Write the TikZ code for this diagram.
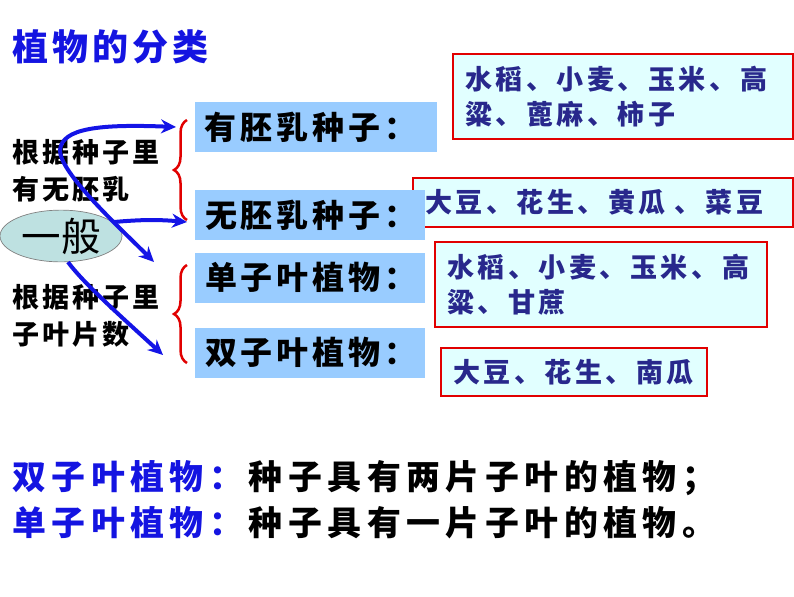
\documentclass[tikz,border=0pt]{standalone}
\usepackage{fontspec}
\newfontfamily\cjk{Noto Sans CJK SC}
\usepackage{xcolor}
\definecolor{colort}{RGB}{20,20,225}
\definecolor{colorb}{RGB}{153,204,255}
\definecolor{colorc}{RGB}{225,255,255}
\definecolor{colorr}{RGB}{225,0,0}
\definecolor{colorn}{RGB}{40,40,140}
\definecolor{colore}{RGB}{190,225,225}
\definecolor{colora}{RGB}{20,20,230}
\usetikzlibrary{arrows.meta,shapes.geometric,decorations.pathreplacing}
% spaced CJK text, kept on one line
\newcommand\spc[2]{\mbox{\def\spcgap{#1}\spcloop#2\relax}}
\def\spcloop#1{\ifx#1\relax\else#1\hspace{\spcgap}\expandafter\spcloop\fi}
\tikzstyle{titleT} = [anchor=west, text=colort, inner sep=0, font=\cjk\bfseries\fontsize{20.5}{24}\selectfont]
\tikzstyle{hintT} = [anchor=west, inner sep=0, align=left, font=\cjk\bfseries\fontsize{15.4}{21}\selectfont]
\tikzstyle{boxB} = [fill=colorb, minimum height=1cm, inner xsep=0.2cm, align=left, font=\cjk\bfseries\fontsize{18.2}{22}\selectfont]
\tikzstyle{boxR} = [fill=colorc, draw=colorr, line width=0.05cm, inner xsep=0.24cm, align=left, text=colorn, font=\cjk\bfseries\fontsize{15.4}{19.9}\selectfont]
\tikzstyle{braceR} = [draw=colorr, line width=0.05cm, decorate, decoration={brace, amplitude=0.26cm}]
\tikzstyle{arrowB} = [draw=colora, line width=0.08cm, -{Stealth[length=0.3cm,width=0.28cm]}]
\tikzstyle{defT} = [anchor=west, inner sep=0, font=\cjk\bfseries\fontsize{19.3}{24}\selectfont]
\begin{document}
\begin{tikzpicture}[x=0.02cm,y=-0.02cm]
  \useasboundingbox (0,0) rectangle (794,596);

  \node[titleT] (title) at (12,47) {\spc{0.08cm}{植物的分类}};

  \node[hintT] (h1) at (12,171) {\spc{0.06cm}{根据种子里}\\\spc{0.06cm}{有无胚乳}};
  \node[hintT] (h2) at (12,316) {\spc{0.06cm}{根据种子里}\\\spc{0.06cm}{子叶片数}};

  \node[ellipse, fill=colore, draw=gray, minimum width=2.44cm, minimum height=0.98cm,
        inner sep=0, font=\cjk\fontsize{22.5}{26}\selectfont] (yiban) at (61,236) {一般};

  %examples
  \node[boxR, text width=6.32cm, minimum height=1.7cm] (r1) at (623,96.5)
    {\spc{0.07cm}{水稻、小麦、玉米、高}\\\spc{0.07cm}{粱、蓖麻、柿子}};
  \node[boxR, text width=7.12cm, minimum height=0.98cm] (r2) at (603,202.5)
    {\spc{0.07cm}{大豆、花生、黄瓜{\hspace{0.04cm}}、菜豆}};
  \node[boxR, text width=6.16cm, minimum height=1.7cm] (r3) at (601,284.5)
    {\spc{0.07cm}{水稻、小麦、玉米、高}\\\spc{0.07cm}{粱、甘蔗}};
  \node[boxR, text width=4.84cm, minimum height=0.96cm] (r4) at (574,372)
    {\spc{0.07cm}{大豆、花生、南瓜}};

  \node[boxB, text width=4.46cm] (b1) at (316,127) {\spc{0.08cm}{有胚乳种子：}};
  \node[boxB, text width=4.2cm] (b2) at (310,215) {\spc{0.08cm}{无胚乳种子：}};
  \node[boxB, text width=4.2cm] (b3) at (310,277.5) {\spc{0.08cm}{单子叶植物：}};
  \node[boxB, text width=4.2cm] (b4) at (310,352.5) {\spc{0.08cm}{双子叶植物：}};

  \draw[braceR] (187,220) -- (187,120);
  \draw[braceR] (187,363) -- (187,265);

  \coordinate (a1) at (176,127);
  \coordinate (a2) at (154,262);
  \coordinate (a3) at (187,222);
  \coordinate (a4) at (163,355);
  \draw[arrowB, {Stealth[length=0.3cm,width=0.28cm]}-{Stealth[length=0.3cm,width=0.28cm]}]
    (a1) .. controls (100,124) and (62,128) .. (60,150) .. controls (59,172) and (120,228) .. (a2);
  \draw[arrowB] (yiban.15) to[bend left=5] (a3);
  \draw[arrowB] (yiban.-75) .. controls (85,285) and (125,320) .. (a4);

  \node[defT] (d1) at (12,478) {\textcolor{colort}{\spc{0.11cm}{双子叶植物：}}\spc{0.11cm}{种子具有两片子叶的植物；}};
  \node[defT] (d2) at (12,523) {\textcolor{colort}{\spc{0.11cm}{单子叶植物：}}\spc{0.11cm}{种子具有一片子叶的植物。}};
\end{tikzpicture}
\end{document}
